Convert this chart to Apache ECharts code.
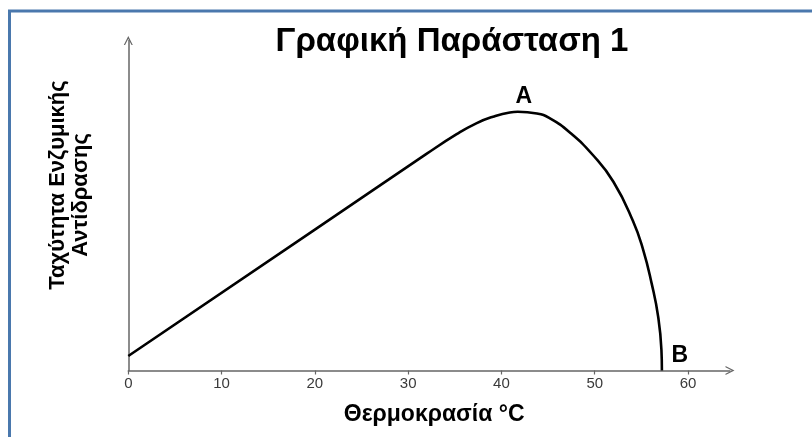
<!DOCTYPE html>
<html>
<head>
<meta charset="utf-8">
<script src="https://cdn.jsdelivr.net/npm/echarts@6/dist/echarts.min.js"></script>
<style>
html,body{margin:0;padding:0;background:#fff;}
#chart{width:812px;height:437px;}
</style>
</head>
<body>
<div id="chart"></div>
<script>
// Data
const temperatures = [0, 20, 32, 35.2, 37.3, 39.1, 40.9, 41.75, 43.8, 45.2, 47.3, 49.8, 52.0, 54.1, 55.2, 56.1, 56.8, 57.15, 57.2];
const rates        = [4.4, 42.7, 65.7, 71.6, 74.9, 76.9, 78.2, 78.4, 77.9, 76.4, 72.2, 65.3, 57.2, 45.3, 36.5, 26.4, 16.3, 6.2, 0];
const xTickValues = [0, 10, 20, 30, 40, 50, 60];
const titleText = 'Γραφική Παράσταση 1';
const xName = 'Θερμοκρασία °C';
const yNameLine1 = 'Ταχύτητα Ενζυμικής';
const yNameLine2 = 'Αντίδρασης';
const pointA = { label: 'A', index: 7 };
const pointB = { label: 'B', index: 18 };

const chart = echarts.init(document.getElementById('chart'), null, { renderer: 'canvas' });
const font = "'Liberation Sans', Arial, sans-serif";
const arrowPath = 'path://M0,10 L5,0 L10,10 L8.6,10 L5,3 L1.4,10 Z';

chart.setOption({
  animation: false,
  backgroundColor: '#fff',
  title: {
    text: titleText,
    left: 447, top: 20, textAlign: 'center',
    textStyle: { fontFamily: font, fontSize: 33, fontWeight: 'bold', color: '#000' }
  },
  grid: { left: 128.3, right: 82, top: 40.5, bottom: 66.5, containLabel: false },
  xAxis: {
    type: 'value', min: 0, max: 64.5,
    name: xName, nameLocation: 'middle', nameGap: 33,
    nameTextStyle: { fontFamily: font, fontSize: 23, fontWeight: 'bold', color: '#000', padding: [0, 0, 0, 10] },
    axisLine: { show: true, onZero: false, symbol: ['none', arrowPath], symbolSize: [9, 9],
      lineStyle: { color: '#666', width: 1.5 } },
    axisTick: { show: true, length: 4, customValues: xTickValues, lineStyle: { color: '#666', width: 1.2 } },
    axisLabel: { show: true, customValues: xTickValues, margin: 6,
      fontFamily: font, fontSize: 15, color: '#3a3a3a' },
    splitLine: { show: false }
  },
  yAxis: {
    type: 'value', min: 0, max: 100,
    axisLine: { show: true, onZero: false, symbol: ['none', arrowPath], symbolSize: [9, 9],
      lineStyle: { color: '#666', width: 1.5 } },
    axisTick: { show: false },
    axisLabel: { show: false },
    splitLine: { show: false }
  },
  series: [{
    type: 'line',
    data: temperatures.map((t, i) => [t, rates[i]]),
    smooth: 0.5,
    showSymbol: false,
    symbol: 'none',
    lineStyle: { color: '#000', width: 2.6 },
    markPoint: {
      symbol: 'circle', symbolSize: 0,
      label: { show: true, fontFamily: font, fontWeight: 'bold', fontSize: 23, color: '#000' },
      data: [
        { coord: [temperatures[pointA.index], rates[pointA.index]], label: { formatter: pointA.label, offset: [6, -15] } },
        { coord: [temperatures[pointB.index], rates[pointB.index]], label: { formatter: pointB.label, offset: [18, -15] } }
      ]
    }
  }],
  graphic: [
    { type: 'rect', silent: true, z: 100,
      shape: { x: 9.5, y: 11, width: 1000, height: 1000 },
      style: { fill: 'none', stroke: '#4a78ad', lineWidth: 3 } },
    { type: 'text', x: 58, y: 185, rotation: Math.PI / 2,
      style: { text: yNameLine1, fontFamily: font, fontSize: 22, fontWeight: 'bold', fill: '#000',
        textAlign: 'center', textVerticalAlign: 'middle' } },
    { type: 'text', x: 81, y: 195, rotation: Math.PI / 2,
      style: { text: yNameLine2, fontFamily: font, fontSize: 22, fontWeight: 'bold', fill: '#000',
        textAlign: 'center', textVerticalAlign: 'middle' } }
  ]
});
</script>
</body>
</html>
